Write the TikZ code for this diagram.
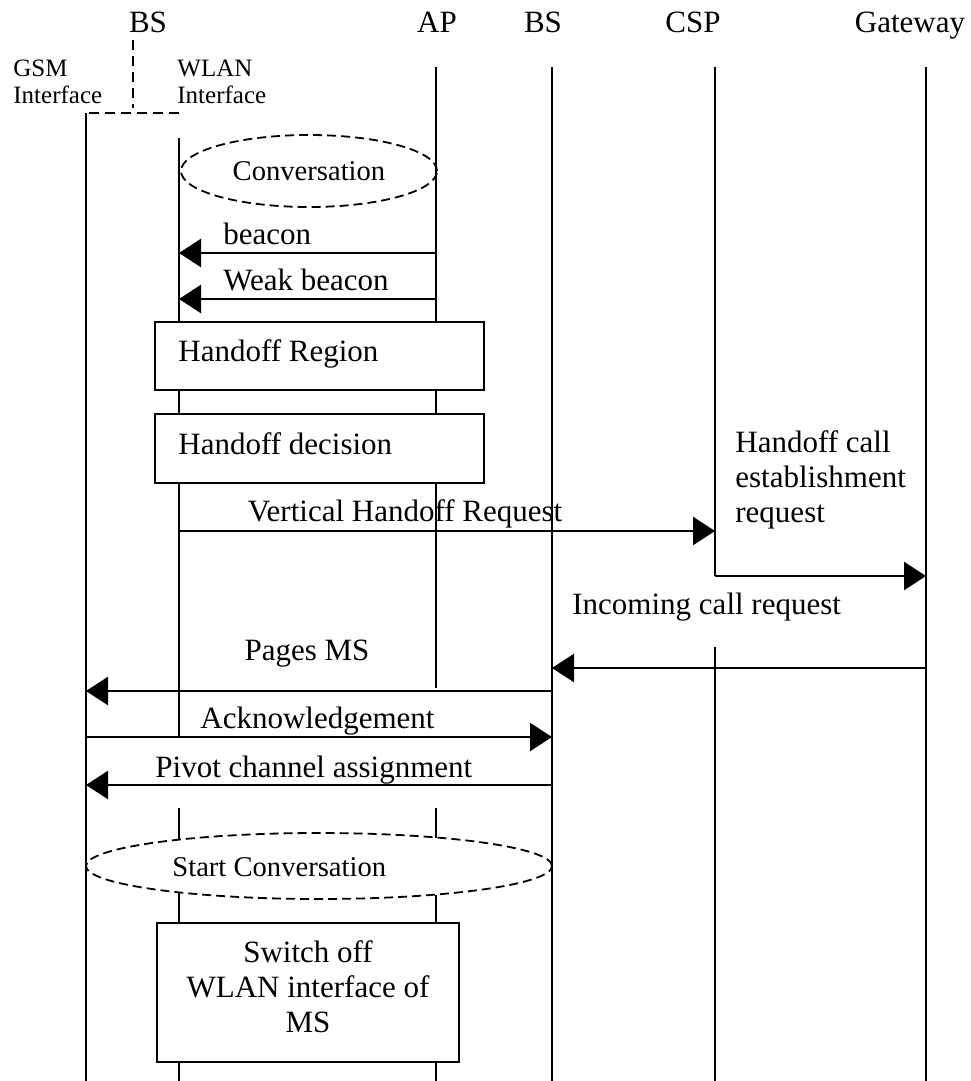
\documentclass[tikz,border=0pt]{standalone}
\usepackage{fontspec}
\setmainfont{Liberation Serif}
\usetikzlibrary{arrows.meta,shapes.geometric}
\begin{document}
\begin{tikzpicture}[x=0.5pt,y=-0.5pt,
  every node/.style={inner sep=0pt,font=\fontsize{15.5}{17.5}\selectfont},
  small/.style={font=\fontsize{12.5}{14}\selectfont},
  convfont/.style={font=\fontsize{14.3}{16}\selectfont},
  life/.style={line width=0.9pt},
  msg/.style={line width=1.3pt,-{Triangle[length=11pt,width=14pt]}},
  divider/.style={line width=1pt,dash pattern=on 5pt off 3pt},
  conv/.style={ellipse,draw,line width=0.9pt,dash pattern=on 4.5pt off 2.5pt},
  stepbox/.style={draw,line width=0.9pt}]

\useasboundingbox (0,0) rectangle (970,1081);

% entity headers
\node[anchor=base] (hbs1) at (148,33) {BS};
\node[anchor=base] (hap)  at (437,33) {AP};
\node[anchor=base] (hbs2) at (543,33) {BS};
\node[anchor=base] (hcsp) at (693,33) {CSP};
\node[anchor=base] (hgw)  at (910,33) {Gateway};

% the two interfaces of the mobile station
\node[small,anchor=base west] (gsm1)  at (13,76)  {GSM};
\node[small,anchor=base west] (gsm2)  at (13,104) {Interface};
\node[small,anchor=base west] (wlan1) at (177,76)  {WLAN};
\node[small,anchor=base west] (wlan2) at (177,104) {Interface};

\coordinate (dtop) at (133,40);
\coordinate (dbot) at (133,108);
\coordinate (gT) at (86,113);
\coordinate (wC) at (179,113);
\draw[divider] (dtop) -- (dbot);
\draw[divider] (wC) -- (gT);

% boxes and ellipses
\node[conv,convfont,minimum width=128pt,minimum height=36pt] (conv) at (309,171) {Conversation};
\node[stepbox,minimum width=164.5pt,minimum height=34pt] (hreg) at (319.5,356) {};
\node[anchor=base west] (hregt) at (178,361) {Handoff Region};
\node[stepbox,minimum width=164.5pt,minimum height=34.5pt] (hdec) at (319.5,448.5) {};
\node[anchor=base west] (hdect) at (178,454) {Handoff decision};
\node[anchor=west,align=left] (hce) at (735,480) {Handoff call\\establishment\\request};
\node[conv,minimum width=233pt,minimum height=33pt] (sc) at (319,866) {};
\node[convfont,anchor=base west] (sct) at (172,876) {Start Conversation};
\node[stepbox,minimum width=151pt,minimum height=69.5pt] (swo) at (308,992.5) {};
\node[align=center] (swot) at (308,987) {Switch off\\WLAN interface of\\MS};

% lifelines
\coordinate (gB) at (86,1081);
\draw[life] (gT) -- (gB);

\coordinate (wT) at (179,138);
\draw[life] (wT) -- (wT |- hreg.north);
\draw[life] (wT |- hreg.south) -- (wT |- hdec.north);
\draw[life] (wT |- hdec.south) -- (179,737);
\draw[life] (179,808) -- (179,839.6);
\draw[life] (179,892.4) -- (wT |- swo.north);
\draw[life] (wT |- swo.south) -- (179,1081);

\coordinate (aT) at (436,67);
\draw[life] (aT) -- (aT |- hreg.north);
\draw[life] (aT |- hreg.south) -- (aT |- hdec.north);
\draw[life] (aT |- hdec.south) -- (436,688);
\draw[life] (436,808) -- (436,837.5);
\draw[life] (436,894.5) -- (aT |- swo.north);
\draw[life] (aT |- swo.south) -- (436,1081);

\coordinate (bT) at (552,67);
\coordinate (bB) at (552,1081);
\draw[life] (bT) -- (bB);

\coordinate (cT) at (715,67);
\coordinate (cM) at (715,576);
\coordinate (cR) at (715,647);
\coordinate (cB) at (715,1081);
\draw[life] (cT) -- (cM);
\draw[life] (cR) -- (cB);

\coordinate (yT) at (926,67);
\coordinate (yB) at (926,1081);
\draw[life] (yT) -- (yB);

% messages
\coordinate (m1a) at (436,253); \coordinate (m1b) at (179,253);
\coordinate (m2a) at (436,299); \coordinate (m2b) at (179,299);
\coordinate (m3a) at (179,531); \coordinate (m3b) at (715,531);
\coordinate (m4b) at (926,576);
\coordinate (m5a) at (926,668); \coordinate (m5b) at (552,668);
\coordinate (m6a) at (552,691); \coordinate (m6b) at (86,691);
\coordinate (m7a) at (86,737);  \coordinate (m7b) at (552,737);
\coordinate (m8a) at (552,785); \coordinate (m8b) at (86,785);

\draw[msg] (m1a) -- (m1b);
\draw[msg] (m2a) -- (m2b);
\draw[msg] (m3a) -- (m3b);
\draw[msg] (cM) -- (m4b);
\draw[msg] (m5a) -- (m5b);
\draw[msg] (m6a) -- (m6b);
\draw[msg] (m7a) -- (m7b);
\draw[msg] (m8a) -- (m8b);

% message labels
\node[anchor=base west] (l1) at (223,244) {beacon};
\node[anchor=base west] (l2) at (223,290) {Weak beacon};
\node[anchor=base] (l3) at (405,521) {Vertical Handoff Request};
\node[anchor=base west] (l5) at (572,614) {Incoming call request};
\node[anchor=base] (l6) at (307,660) {Pages MS};
\node[anchor=base west] (l7) at (200,728) {Acknowledgement};
\node[anchor=base west] (l8) at (155,777) {Pivot channel assignment};

\end{tikzpicture}
\end{document}
